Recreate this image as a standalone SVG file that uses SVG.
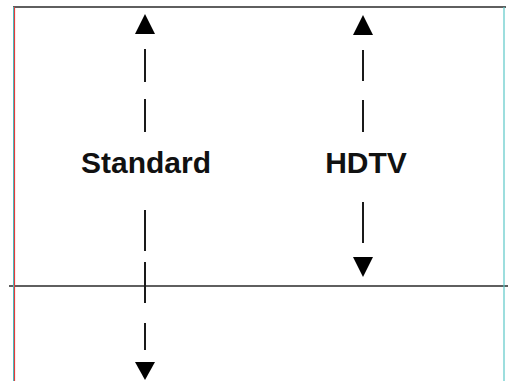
<svg xmlns="http://www.w3.org/2000/svg" width="508" height="381" viewBox="0 0 508 381">
  <style>
    .frame { stroke: #2a2a2a; stroke-width: 1.5; fill: none; }
    .dash { stroke: #1a1a1a; stroke-width: 2; fill: none; }
    .head { fill: #000; }
    .label { font-family: "Liberation Sans", Arial, sans-serif; font-weight: bold; font-size: 30px; fill: #111; text-anchor: middle; }
  </style>
  <rect width="508" height="381" fill="#fff"/>

  <!-- frame edges -->
  <g id="frame">
    <line x1="13" y1="7" x2="506" y2="7" class="frame"/>
    <line x1="9" y1="286" x2="508" y2="286" class="frame"/>
    <line x1="13.5" y1="7" x2="13.5" y2="381" stroke="#3cc8c8" stroke-width="1"/>
    <line x1="14.5" y1="7" x2="14.5" y2="381" stroke="#e03c3c" stroke-width="1.2"/>
    <line x1="504" y1="7" x2="504" y2="381" stroke="#5cc8c8" stroke-width="1.2"/>
  </g>

  <!-- dashed double-headed arrows -->
  <g id="connectors">
    <path class="dash" d="M145 49V82M145 99V132M145 210V251M145 262V303M145 323V350"/>
    <polygon class="head" points="145,14 135,34 155,34"/>
    <polygon class="head" points="135,362 155,362 145,380"/>

    <path class="dash" d="M363 50V81M363 100V132M363 202V243"/>
    <polygon class="head" points="363,15 353,35 373,35"/>
    <polygon class="head" points="353,257 373,257 363,277"/>
  </g>

  <g id="standard">
    <text x="146" y="173" class="label">Standard</text>
  </g>
  <g id="hdtv">
    <text x="366" y="173" class="label">HDTV</text>
  </g>
</svg>
